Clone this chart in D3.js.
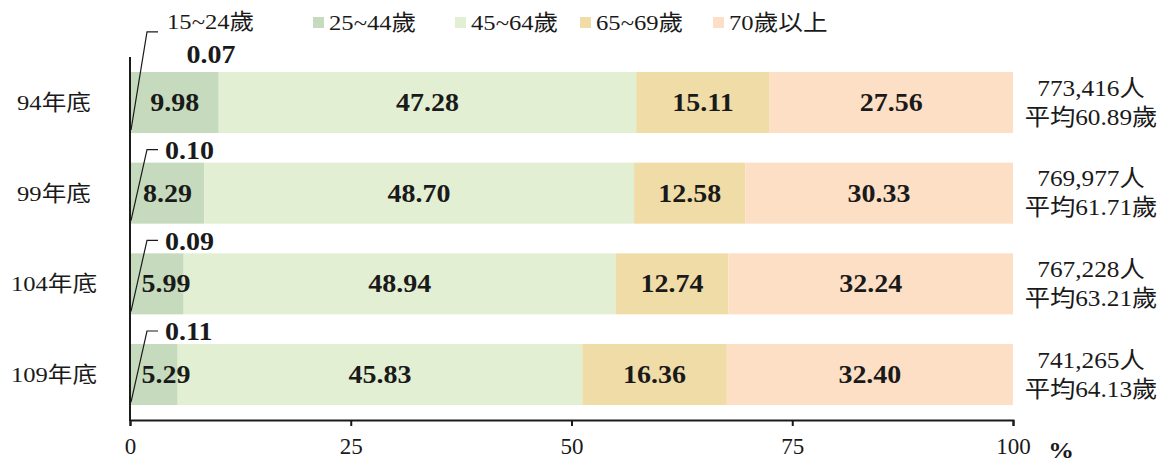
<!DOCTYPE html>
<html>
<head>
<meta charset="utf-8">
<script src="https://cdn.jsdelivr.net/npm/d3@7"></script>
<style>
  html, body { margin: 0; padding: 0; background: #fff; }
  svg text { font-family: "Liberation Serif", "Times New Roman", "Noto Sans CJK TC", serif; fill: #1a1a1a; }
</style>
</head>
<body>
<svg id="chart" width="1163" height="462"></svg>
<script>
// Year-end groups and age-bracket shares (%)
const years = ["94年底", "99年底", "104年底", "109年底"];
const ageGroups = ["15~24歲", "25~44歲", "45~64歲", "65~69歲", "70歲以上"];
const age15to24 = [0.07, 0.10, 0.09, 0.11];
const age25to44 = [9.98, 8.29, 5.99, 5.29];
const age45to64 = [47.28, 48.70, 48.94, 45.83];
const age65to69 = [15.11, 12.58, 12.74, 16.36];
const age70plus = [27.56, 30.33, 32.24, 32.40];
const headcount = ["773,416人", "769,977人", "767,228人", "741,265人"];
const averageAge = ["平均60.89歲", "平均61.71歲", "平均63.21歲", "平均64.13歲"];
const xTicks = [0, 25, 50, 75, 100];

const colors = ["#8fb580", "#c6dbbd", "#e3efd3", "#f0dca6", "#fddfc6"];

const series = [age15to24, age25to44, age45to64, age65to69, age70plus];
const rows = years.map((y, i) => {
  const r = { year: y };
  ageGroups.forEach((g, k) => { r[g] = series[k][i]; });
  return r;
});
const stacked = d3.stack().keys(ageGroups)(rows);

const svg = d3.select("#chart");
const x = d3.scaleLinear().domain([0, 100]).range([130, 1013]);
const y = d3.scaleBand().domain(years).range([57, 420]).paddingInner(0.327).paddingOuter(0.165);
const color = d3.scaleOrdinal().domain(ageGroups).range(colors);

// Text helper: slightly widened glyphs, anchored at (px, py)
const SX = 1.12;
function label(parent, px, py, str, opts = {}) {
  return parent.append("text")
    .attr("transform", `translate(${px},${py}) scale(${opts.sx || SX},1)`)
    .attr("text-anchor", opts.anchor || "middle")
    .attr("dominant-baseline", "central")
    .attr("font-size", opts.size || 22)
    .attr("font-weight", opts.bold ? "bold" : null)
    .text(str);
}

// Bars
svg.append("g").selectAll("g").data(stacked).join("g")
  .attr("fill", d => color(d.key))
  .selectAll("rect").data(d => d).join("rect")
  .attr("x", d => x(d[0]))
  .attr("y", d => y(d.data.year))
  .attr("width", d => x(d[1]) - x(d[0]))
  .attr("height", y.bandwidth());

const x0 = x(0);

// Value labels inside segments (except the tiny 15~24 slice);
// narrow first segments keep their label clear of the axis line
const valueLayer = svg.append("g");
stacked.slice(1).forEach(layer => {
  layer.forEach(d => {
    const cx = Math.max((x(d[0]) + x(d[1])) / 2, x0 + 36);
    label(valueLayer, cx, y(d.data.year) + y.bandwidth() / 2,
      (d[1] - d[0]).toFixed(2), { size: 25, bold: true });
  });
});

// Leader lines for the 15~24 slice
years.forEach((yr, i) => {
  const top = y(yr), bottom = top + y.bandwidth();
  const elbowY = i === 0 ? top - 40 : top - 13;
  const elbowX = x0 + 17;
  svg.append("polyline")
    .attr("points", `${x0 + 1},${bottom - 3} ${elbowX},${elbowY} ${elbowX + 11},${elbowY}`)
    .attr("fill", "none").attr("stroke", "#1a1a1a").attr("stroke-width", 1.2);
  if (i === 0) {
    label(svg, elbowX + 20, 21, ageGroups[0], { anchor: "start", size: 22 });
    label(svg, x0 + 81, top - 17, age15to24[i].toFixed(2), { size: 25, bold: true });
  } else {
    label(svg, elbowX + 18, elbowY + 1, age15to24[i].toFixed(2), { anchor: "start", size: 25, bold: true });
  }
});

// Category labels
years.forEach(yr => {
  label(svg, 54, y(yr) + y.bandwidth() / 2, yr, { size: 22 });
});

// Headcount and average age on the right
years.forEach((yr, i) => {
  const cy = y(yr) + y.bandwidth() / 2;
  label(svg, 1091, cy - 15, headcount[i], { size: 23, sx: 1.1 });
  label(svg, 1091, cy + 14, averageAge[i], { size: 23, sx: 1.1 });
});

// Axes
const xAxis = svg.append("g").attr("transform", "translate(0,420)")
  .call(d3.axisBottom(x).tickValues(xTicks).tickSize(6).tickSizeOuter(6).tickPadding(12));
xAxis.select(".domain").attr("stroke", "#1a1a1a").attr("stroke-width", 2);
xAxis.selectAll(".tick line").attr("stroke", "#1a1a1a").attr("stroke-width", 2);
xAxis.selectAll(".tick text")
  .attr("font-family", "Liberation Serif, serif").attr("font-size", 23).attr("fill", "#1a1a1a");
label(svg, 1061, 450, "%", { size: 23, bold: true });

svg.append("line").attr("x1", x0).attr("x2", x0).attr("y1", 57).attr("y2", 421)
  .attr("stroke", "#1a1a1a").attr("stroke-width", 2);

// Legend
const legendItems = [
  { key: ageGroups[1], x: 313 },
  { key: ageGroups[2], x: 455 },
  { key: ageGroups[3], x: 580 },
  { key: ageGroups[4], x: 713 }
];
legendItems.forEach(item => {
  svg.append("rect").attr("x", item.x).attr("y", 17).attr("width", 11).attr("height", 11)
    .attr("fill", color(item.key));
  label(svg, item.x + 16, 22, item.key, { anchor: "start", size: 22 });
});
</script>
</body>
</html>
